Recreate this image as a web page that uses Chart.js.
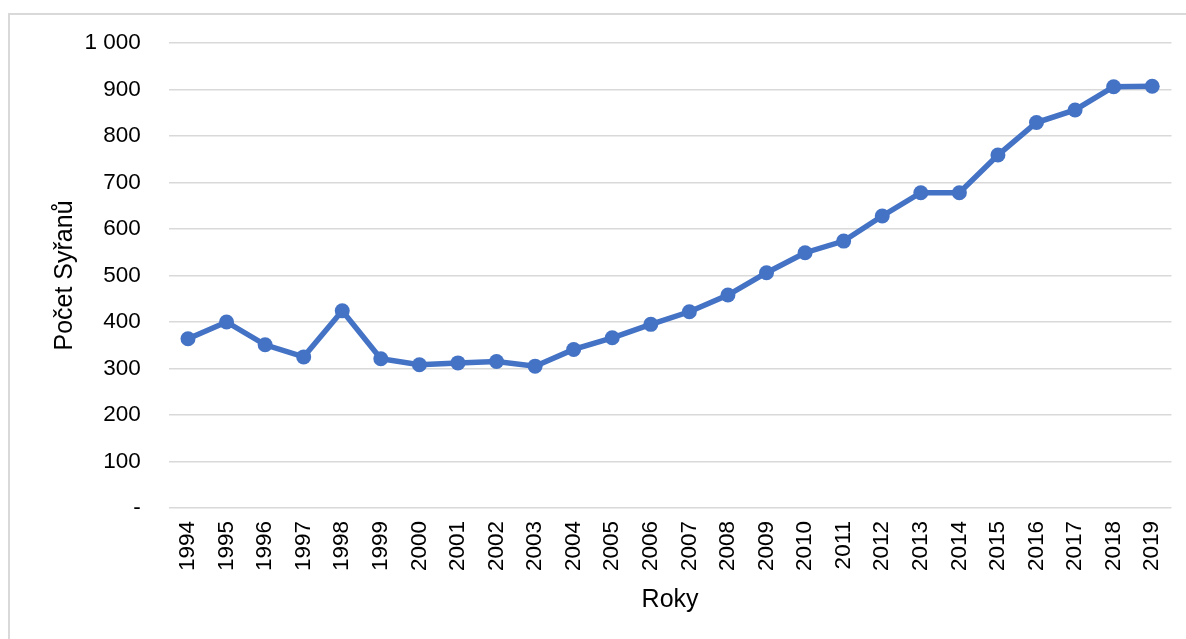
<!DOCTYPE html>
<html>
<head>
<meta charset="utf-8">
<script src="https://cdn.jsdelivr.net/npm/chart.js@4.4.1/dist/chart.umd.min.js"></script>
<style>
  html, body { margin: 0; padding: 0; background: #ffffff; }
  #wrap { position: relative; width: 1186px; height: 639px; overflow: hidden; }
  #frame { position: absolute; left: 8px; top: 13px; right: -10px; bottom: -10px;
           border-top: 2px solid #d9d9d9; border-left: 2px solid #d9d9d9; pointer-events: none; }
  canvas { position: absolute; left: 0; top: 0; }
</style>
</head>
<body>
<div id="wrap">
  <canvas id="c" width="1186" height="639"></canvas>
  <div id="frame"></div>
</div>
<script>
const years = ["1994","1995","1996","1997","1998","1999","2000","2001","2002","2003","2004","2005","2006","2007","2008","2009","2010","2011","2012","2013","2014","2015","2016","2017","2018","2019"];
const counts = [364, 400, 351, 325, 424, 321, 308, 312, 315, 305, 341, 366, 395, 422, 458, 506, 549, 574, 628, 678, 678, 759, 829, 856, 906, 907];
const yTitle = "Počet Syřanů";
const xTitle = "Roky";

const FONT = "'Liberation Sans', Arial, sans-serif";

function fmt(v) {
  if (v === 0) return "-";
  const s = String(v);
  return s.replace(/\B(?=(\d{3})+(?!\d))/g, " ");
}

new Chart(document.getElementById("c"), {
  type: "line",
  data: {
    labels: years,
    datasets: [{
      data: counts,
      borderColor: "#4472C4",
      backgroundColor: "#4472C4",
      borderWidth: 5.5,
      pointRadius: 7.5,
      pointHoverRadius: 7.5,
      pointBorderWidth: 0,
      tension: 0,
      fill: false
    }]
  },
  options: {
    responsive: false,
    animation: false,
    layout: { padding: { left: 50, right: 14.5, top: 43, bottom: 20 } },
    plugins: { legend: { display: false }, tooltip: { enabled: false } },
    scales: {
      x: {
        offset: true,
        grid: { display: false, drawTicks: false },
        border: { display: false },
        ticks: {
          color: "#000000",
          font: { family: FONT, size: 22.5 },
          maxRotation: 90, minRotation: 90,
          padding: 13,
          autoSkip: false
        },
        title: {
          display: true, text: xTitle, color: "#000000",
          font: { family: FONT, size: 25 },
          padding: { top: 0, bottom: 4 }
        },
        afterFit: (s) => { s.height = 111; s.paddingRight = 0; s.paddingLeft = 0; }
      },
      y: {
        min: 0, max: 1000,
        grid: { color: "#d9d9d9", lineWidth: 1.5, drawTicks: false },
        border: { display: false },
        ticks: {
          stepSize: 100,
          color: "#000000",
          font: { family: FONT, size: 22.5 },
          padding: 28,
          callback: (v) => fmt(v)
        },
        title: {
          display: true, text: yTitle, color: "#000000",
          font: { family: FONT, size: 25 },
          padding: 0
        },
        afterFit: (s) => { s.width = 118.7; s.paddingTop = 0; s.paddingBottom = 0; }
      }
    }
  }
});
</script>
</body>
</html>
